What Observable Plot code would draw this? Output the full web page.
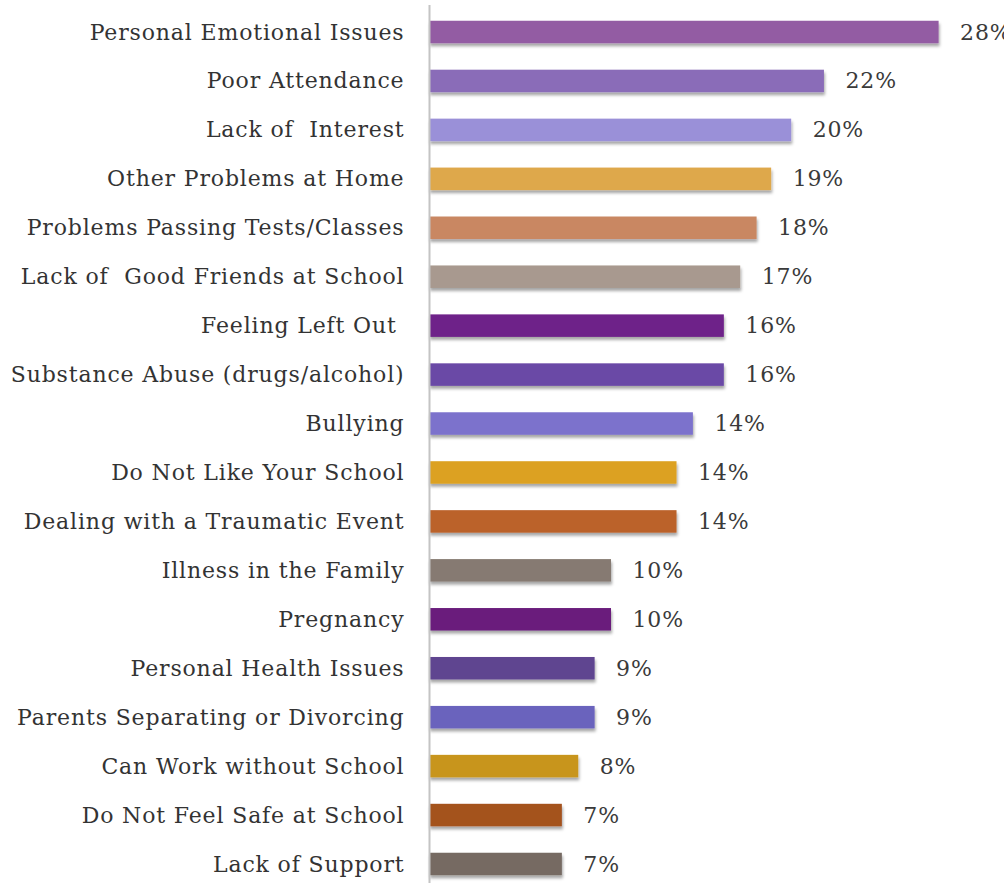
<!DOCTYPE html>
<html>
<head>
<meta charset="utf-8">
<script src="https://cdn.jsdelivr.net/npm/d3@7"></script>
<script src="https://cdn.jsdelivr.net/npm/@observablehq/plot@0.6"></script>
<style>
  html, body { margin: 0; padding: 0; background: #ffffff; }
  #chart { width: 1004px; height: 883px; }
</style>
</head>
<body>
<div id="chart"></div>
<script>
const categories = [
  "Personal Emotional Issues",
  "Poor Attendance",
  "Lack of  Interest",
  "Other Problems at Home",
  "Problems Passing Tests/Classes",
  "Lack of  Good Friends at School",
  "Feeling Left Out ",
  "Substance Abuse (drugs/alcohol)",
  "Bullying",
  "Do Not Like Your School",
  "Dealing with a Traumatic Event",
  "Illness in the Family",
  "Pregnancy",
  "Personal Health Issues",
  "Parents Separating or Divorcing",
  "Can Work without School",
  "Do Not Feel Safe at School",
  "Lack of Support"
];
const values = [28.0, 21.7, 19.9, 18.8, 18.0, 17.1, 16.2, 16.2, 14.5, 13.6, 13.6, 10.0, 10.0, 9.1, 9.1, 8.2, 7.3, 7.3];
const valueLabels = ["28%", "22%", "20%", "19%", "18%", "17%", "16%", "16%", "14%", "14%", "14%", "10%", "10%", "9%", "9%", "8%", "7%", "7%"];
const barColors = [
  "#935ba3", "#8a6cb8", "#9a90d8", "#dea84c", "#c98762", "#a8998f",
  "#6e2289", "#6b4aa6", "#7c72cc", "#dca124", "#bb6229", "#867a72",
  "#6a1c7c", "#5f4590", "#6a63bd", "#c8951c", "#a4521f", "#766a62"
];

const data = categories.map((c, i) => ({
  category: c,
  value: values[i],
  label: valueLabels[i],
  color: barColors[i]
}));

const chart = Plot.plot({
  width: 1004,
  height: 883,
  marginLeft: 429,
  marginRight: 29,
  marginTop: 5,
  marginBottom: 0,
  style: {
    fontFamily: "'DejaVu Serif', serif",
    fontSize: "22px",
    letterSpacing: "0.85px",
    color: "#333333",
    background: "#ffffff"
  },
  x: { domain: [0, 30], axis: null },
  y: {
    domain: categories,
    range: [20.75, 875.25],
    paddingInner: 0.54,
    paddingOuter: 0,
    round: false
  },
  marks: [
    Plot.axisY({ tickSize: 0, tickPadding: 25, fontSize: 22, label: null }),
    Plot.barX(data, {
      x: "value",
      y: "category",
      fill: "color",
      className: "bars"
    }),
    Plot.ruleX([0], { stroke: "#c4c4c4", strokeWidth: 2 }),
    Plot.text(data, {
      x: "value",
      y: "category",
      text: "label",
      dx: 21,
      textAnchor: "start",
      fontSize: 22,
      fill: "#3a3a3a"
    })
  ]
});

// soft drop shadow for the 3D-looking bars
const ns = "http://www.w3.org/2000/svg";
const defs = document.createElementNS(ns, "defs");
defs.innerHTML = '<filter id="barShadow" x="-5%" y="-40%" width="115%" height="200%">' +
  '<feDropShadow dx="1" dy="3" stdDeviation="1.6" flood-color="#000" flood-opacity="0.35"/></filter>';
chart.insertBefore(defs, chart.firstChild);
const barsG = chart.querySelector("g.bars");
if (barsG) barsG.setAttribute("filter", "url(#barShadow)");

document.getElementById("chart").appendChild(chart);
</script>
</body>
</html>
